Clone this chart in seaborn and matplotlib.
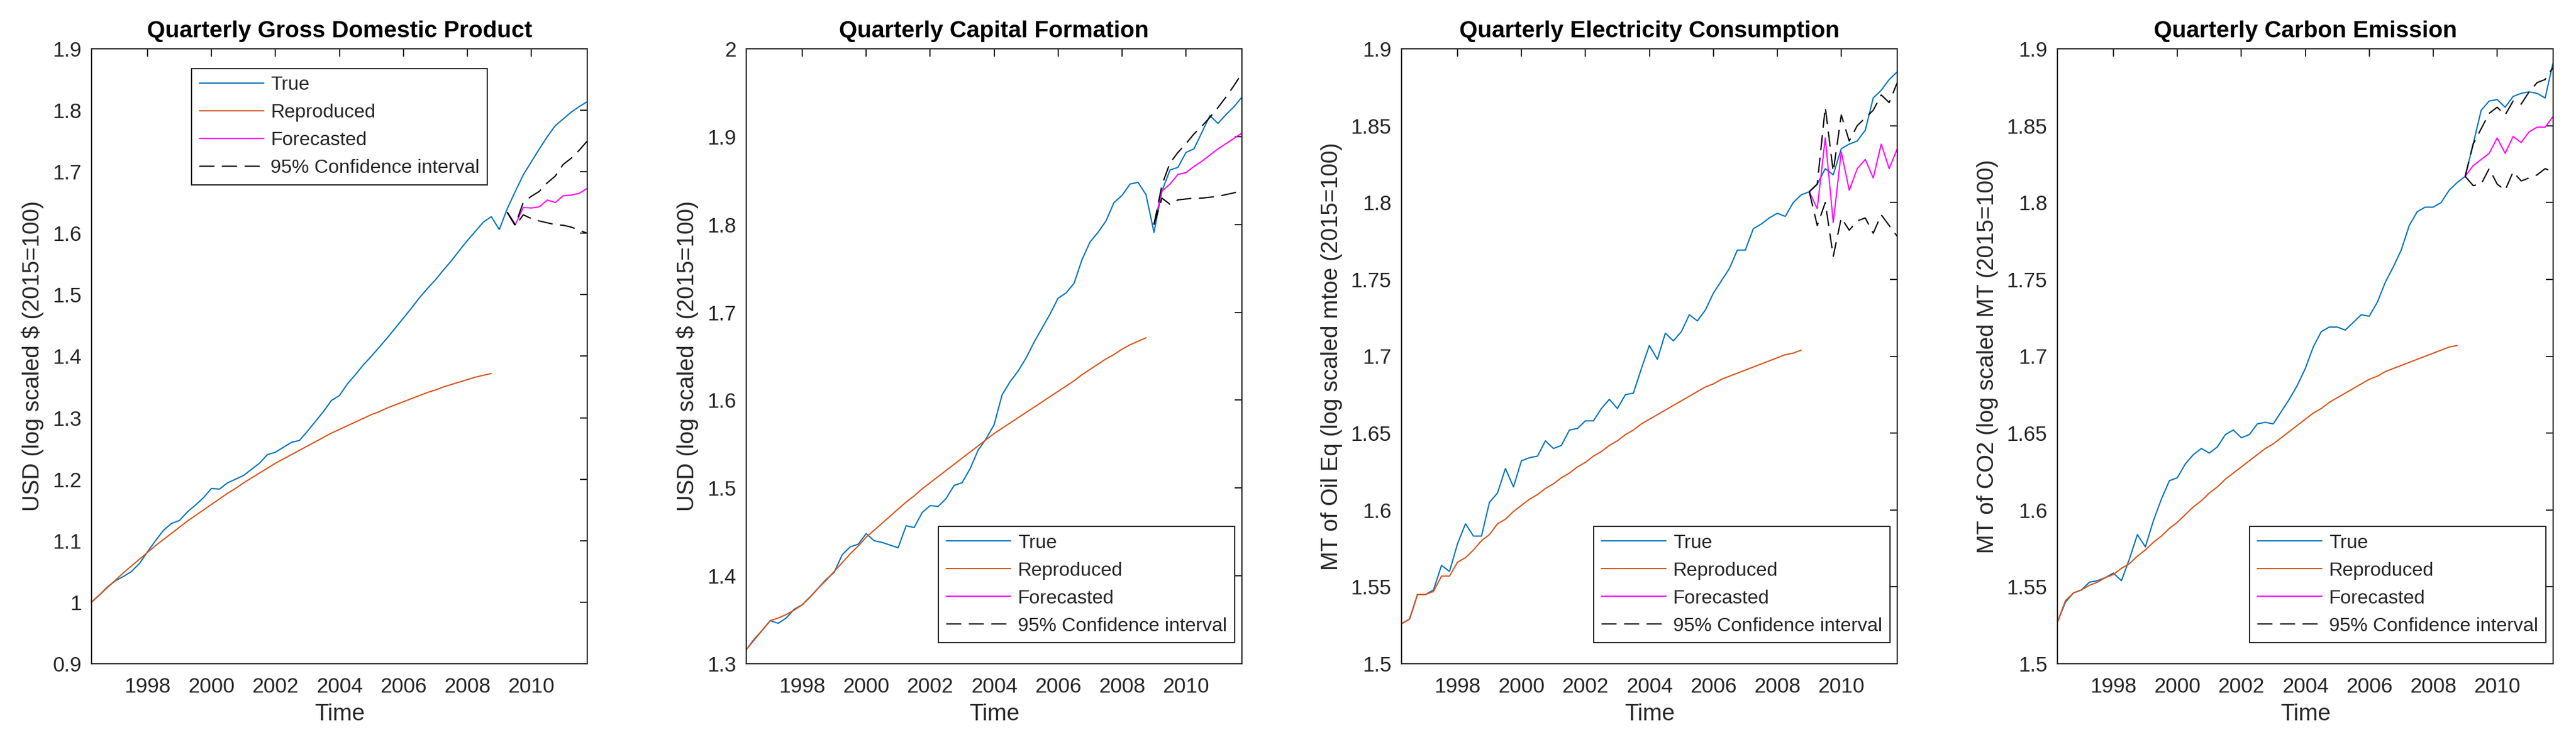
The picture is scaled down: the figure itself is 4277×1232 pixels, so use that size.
import numpy as np
import pandas as pd
import matplotlib
matplotlib.use("Agg")
import matplotlib.pyplot as plt
import seaborn as sns
from matplotlib.ticker import FormatStrFormatter

# Time axis (decimal years, quarterly)
time_true = np.arange(1996.25, 2011.76, 0.25)     # 63 quarters
time_repr = np.arange(1996.25, 2008.76, 0.25)     # 51 quarters
time_fc_gdp = np.arange(2009.25, 2011.76, 0.25)   # 11 quarters
time_fc = np.arange(2009.0, 2011.76, 0.25)        # 12 quarters

# ---- Quarterly Gross Domestic Product ----
gdp_true = [1.000, 1.012, 1.025,
            1.035, 1.042, 1.050, 1.063,
            1.082, 1.100, 1.117, 1.128,
            1.133, 1.147, 1.158, 1.170,
            1.185, 1.184, 1.194, 1.200,
            1.206, 1.216, 1.226, 1.240,
            1.244, 1.252, 1.260, 1.263,
            1.278, 1.294, 1.310, 1.328,
            1.336, 1.355, 1.370, 1.386,
            1.400, 1.415, 1.430, 1.446,
            1.462, 1.478, 1.495, 1.510,
            1.524, 1.540, 1.555, 1.572,
            1.588, 1.603, 1.618, 1.627,
            1.606, 1.640, 1.668, 1.695,
            1.716, 1.737, 1.757, 1.775,
            1.786, 1.797, 1.806, 1.814]
gdp_repr = [1.000, 1.012, 1.024,
            1.036, 1.048, 1.059, 1.070,
            1.081, 1.092, 1.102, 1.112,
            1.122, 1.132, 1.141, 1.150,
            1.159, 1.168, 1.177, 1.185,
            1.194, 1.202, 1.210, 1.218,
            1.226, 1.233, 1.240, 1.247,
            1.254, 1.261, 1.268, 1.275,
            1.281, 1.287, 1.293, 1.299,
            1.305, 1.310, 1.316, 1.321,
            1.326, 1.331, 1.336, 1.341,
            1.345, 1.350, 1.354, 1.358,
            1.362, 1.366, 1.369, 1.372]
gdp_fc = [1.634, 1.614, 1.642, 1.641, 1.643, 1.654, 1.650, 1.661, 1.662, 1.665, 1.673]
gdp_up = [1.634, 1.614, 1.650, 1.660, 1.668, 1.682, 1.693, 1.712, 1.722, 1.735, 1.750]
gdp_lo = [1.634, 1.612, 1.630, 1.624, 1.620, 1.617, 1.614, 1.613, 1.610, 1.605, 1.600]

# ---- Quarterly Capital Formation ----
cap_true = [1.316, 1.328, 1.338,
            1.349, 1.346, 1.352, 1.362,
            1.367, 1.376, 1.386, 1.396,
            1.404, 1.424, 1.433, 1.436,
            1.448, 1.440, 1.438, 1.435,
            1.432, 1.457, 1.455, 1.472,
            1.480, 1.479, 1.488, 1.503,
            1.506, 1.522, 1.543, 1.556,
            1.572, 1.606, 1.621, 1.633,
            1.648, 1.666, 1.682, 1.698,
            1.716, 1.722, 1.733, 1.760,
            1.780, 1.791, 1.804, 1.825,
            1.833, 1.846, 1.848, 1.834,
            1.791, 1.838, 1.862, 1.865,
            1.882, 1.886, 1.905, 1.924,
            1.915, 1.925, 1.934, 1.945]
cap_repr = [1.316, 1.327, 1.338,
            1.349, 1.352, 1.356, 1.361,
            1.367, 1.376, 1.386, 1.395,
            1.405, 1.415, 1.425, 1.434,
            1.444, 1.452, 1.460, 1.468,
            1.476, 1.484, 1.491, 1.499,
            1.506, 1.513, 1.520, 1.527,
            1.534, 1.541, 1.548, 1.555,
            1.562, 1.568, 1.574, 1.580,
            1.586, 1.592, 1.598, 1.604,
            1.610, 1.616, 1.622, 1.629,
            1.635, 1.641, 1.647, 1.652,
            1.658, 1.663, 1.667, 1.671]
cap_fc = [1.800, 1.838, 1.846, 1.857, 1.859, 1.866, 1.872, 1.879, 1.886, 1.892, 1.898, 1.904]
cap_up = [1.800, 1.845, 1.870, 1.882, 1.892, 1.903, 1.912, 1.922, 1.933, 1.945, 1.958, 1.972]
cap_lo = [1.800, 1.830, 1.823, 1.828, 1.829, 1.830, 1.830, 1.831, 1.832, 1.834, 1.836, 1.838]

# ---- Quarterly Electricity Consumption ----
ele_true = [1.526, 1.529, 1.545,
            1.545, 1.548, 1.564, 1.560,
            1.578, 1.591, 1.583, 1.583,
            1.605, 1.611, 1.627, 1.615,
            1.632, 1.634, 1.635, 1.645,
            1.640, 1.642, 1.652, 1.653,
            1.658, 1.658, 1.666, 1.672,
            1.666, 1.675, 1.676, 1.692,
            1.707, 1.698, 1.715, 1.710,
            1.716, 1.727, 1.723, 1.730,
            1.741, 1.749, 1.757, 1.769,
            1.769, 1.783, 1.786, 1.790,
            1.793, 1.791, 1.800, 1.805,
            1.807, 1.812, 1.822, 1.818,
            1.835, 1.838, 1.840, 1.847,
            1.868, 1.873, 1.880, 1.885]
ele_repr = [1.526, 1.529, 1.545,
            1.545, 1.547, 1.557, 1.557,
            1.566, 1.569, 1.574, 1.580,
            1.584, 1.591, 1.594, 1.599,
            1.603, 1.607, 1.610, 1.614,
            1.617, 1.621, 1.624, 1.628,
            1.631, 1.635, 1.638, 1.642,
            1.645, 1.649, 1.652, 1.656,
            1.659, 1.662, 1.665, 1.668,
            1.671, 1.674, 1.677, 1.680,
            1.682, 1.685, 1.687, 1.689,
            1.691, 1.693, 1.695, 1.697,
            1.699, 1.701, 1.702, 1.704]
ele_fc = [1.807, 1.796, 1.842, 1.787, 1.833, 1.808, 1.822, 1.828, 1.816, 1.838, 1.822, 1.835]
ele_up = [1.807, 1.812, 1.862, 1.820, 1.857, 1.840, 1.850, 1.855, 1.860, 1.870, 1.865, 1.878]
ele_lo = [1.807, 1.785, 1.800, 1.765, 1.790, 1.782, 1.788, 1.790, 1.780, 1.792, 1.785, 1.778]

# ---- Quarterly Carbon Emission ----
co2_true = [1.527, 1.540, 1.546,
            1.548, 1.553, 1.554, 1.556,
            1.559, 1.554, 1.568, 1.584,
            1.576, 1.593, 1.607, 1.619,
            1.621, 1.630, 1.636, 1.640,
            1.637, 1.641, 1.649, 1.652,
            1.647, 1.649, 1.656, 1.657,
            1.656, 1.664, 1.672, 1.681,
            1.692, 1.706, 1.716, 1.719,
            1.719, 1.717, 1.722, 1.727,
            1.726, 1.735, 1.748, 1.758,
            1.769, 1.785, 1.794, 1.797,
            1.797, 1.800, 1.808, 1.813,
            1.817, 1.838, 1.860, 1.866,
            1.867, 1.862, 1.869, 1.871,
            1.872, 1.871, 1.868, 1.891]
co2_repr = [1.527, 1.541, 1.546,
            1.548, 1.551, 1.553, 1.556,
            1.558, 1.562, 1.565, 1.570,
            1.574, 1.579, 1.583, 1.588,
            1.592, 1.597, 1.602, 1.606,
            1.611, 1.615, 1.620, 1.624,
            1.628, 1.632, 1.636, 1.640,
            1.643, 1.647, 1.651, 1.655,
            1.659, 1.663, 1.666, 1.670,
            1.673, 1.676, 1.679, 1.682,
            1.685, 1.687, 1.690, 1.692,
            1.694, 1.696, 1.698, 1.700,
            1.702, 1.704, 1.706, 1.707]
co2_fc = [1.817, 1.824, 1.828, 1.832, 1.842, 1.832, 1.843, 1.839, 1.846, 1.849, 1.849, 1.856]
co2_up = [1.817, 1.838, 1.848, 1.858, 1.862, 1.857, 1.866, 1.864, 1.872, 1.878, 1.880, 1.888]
co2_lo = [1.817, 1.811, 1.812, 1.822, 1.812, 1.808, 1.820, 1.814, 1.816, 1.818, 1.822, 1.820]

titles = ["Quarterly Gross Domestic Product", "Quarterly Capital Formation",
          "Quarterly Electricity Consumption", "Quarterly Carbon Emission"]
ylabels = ["USD (log scaled $ (2015=100)", "USD (log scaled $ (2015=100)",
           "MT of Oil Eq (log scaled mtoe (2015=100)", "MT of CO2 (log scaled MT (2015=100)"]
xticks = [1998, 2000, 2002, 2004, 2006, 2008, 2010]

panels = [
    dict(true=gdp_true, repr=gdp_repr, tfc=time_fc_gdp, fc=gdp_fc, up=gdp_up, lo=gdp_lo,
         ylim=(0.9, 1.9), yticks=np.arange(0.9, 1.91, 0.1)),
    dict(true=cap_true, repr=cap_repr, tfc=time_fc, fc=cap_fc, up=cap_up, lo=cap_lo,
         ylim=(1.3, 2.0), yticks=np.arange(1.3, 2.01, 0.1)),
    dict(true=ele_true, repr=ele_repr, tfc=time_fc, fc=ele_fc, up=ele_up, lo=ele_lo,
         ylim=(1.5, 1.9), yticks=np.arange(1.5, 1.91, 0.05)),
    dict(true=co2_true, repr=co2_repr, tfc=time_fc, fc=co2_fc, up=co2_up, lo=co2_lo,
         ylim=(1.5, 1.9), yticks=np.arange(1.5, 1.91, 0.05)),
]

sns.set_style("white")
plt.rcParams['font.family'] = ['Liberation Sans', 'DejaVu Sans']

C_TRUE = "#0072BD"
C_REPR = "#D95319"
C_FC = "#FF00FF"
C_AX = "#262626"
LW = 1.5

fig = plt.figure(figsize=(42.77, 12.32), dpi=100)
lefts = [152, 1239, 2327, 3416]

for i, p in enumerate(panels):
    ax = fig.add_axes([lefts[i] / 4277, 130 / 1232, 823 / 4277, 1021 / 1232])

    sns.lineplot(x=time_true, y=p['true'], ax=ax, color=C_TRUE, linewidth=LW,
                 estimator=None, label="True")
    sns.lineplot(x=time_repr, y=p['repr'], ax=ax, color=C_REPR, linewidth=LW,
                 estimator=None, label="Reproduced")
    sns.lineplot(x=p['tfc'], y=p['fc'], ax=ax, color=C_FC, linewidth=LW,
                 estimator=None, label="Forecasted")
    sns.lineplot(x=p['tfc'], y=p['up'], ax=ax, color="black", linewidth=LW,
                 estimator=None, label="95% Confidence interval")
    ax.lines[-1].set_dashes([12, 6])
    sns.lineplot(x=p['tfc'], y=p['lo'], ax=ax, color="black", linewidth=LW,
                 estimator=None, label="_nolegend_")
    ax.lines[-1].set_dashes([12, 6])

    ax.set_xlim(1996.25, 2011.75)
    ax.set_ylim(*p['ylim'])
    ax.set_xticks(xticks)
    ax.set_xticklabels([str(x) for x in xticks])
    ax.set_yticks(np.round(p['yticks'], 2))
    ax.yaxis.set_major_formatter(FormatStrFormatter('%g'))

    ax.tick_params(direction='in', length=9, width=1.5, top=True, right=True,
                   labelsize=25, colors=C_AX)
    ax.tick_params(axis='x', pad=16)
    ax.tick_params(axis='y', pad=12)
    for sp in ax.spines.values():
        sp.set_visible(True)
        sp.set_color(C_AX)
        sp.set_linewidth(1.5)

    ax.set_title(titles[i], fontsize=28, fontweight='bold', color='black', pad=14)
    ax.set_xlabel("Time", fontsize=27.5, color=C_AX, labelpad=8)
    ax.set_ylabel(ylabels[i], fontsize=27.5, color=C_AX, labelpad=10)

    leg_kw = dict(fontsize=23, handlelength=3.35, handletextpad=0.37, borderpad=0.4,
                  labelspacing=0.5, borderaxespad=0, fancybox=False, framealpha=1,
                  edgecolor=C_AX, labelcolor=C_AX)
    if i == 0:
        leg = ax.legend(loc='upper center', bbox_to_anchor=(0.5, 0.968), **leg_kw)
    else:
        leg = ax.legend(loc='lower right', bbox_to_anchor=(0.985, 0.034), **leg_kw)
    leg.get_frame().set_linewidth(1.5)

fig.savefig("out.png", dpi=100, facecolor="white")
